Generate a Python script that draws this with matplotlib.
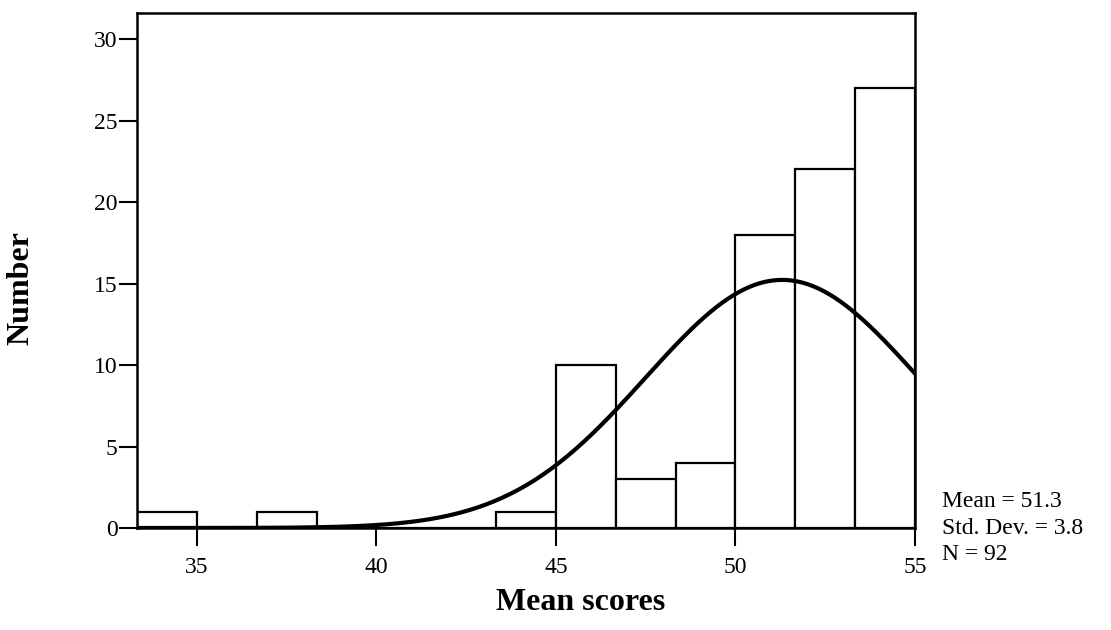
import numpy as np
import matplotlib
matplotlib.use("Agg")
import matplotlib.pyplot as plt

plt.rcParams['font.family'] = ['Liberation Serif', 'DejaVu Serif']

# histogram
bin_start = 100 / 3
bin_width = 5 / 3
counts = [1, 0, 1, 0, 0, 0, 1, 10, 3, 4, 18, 22, 27]
mean_score = 51.3
std_dev = 3.8
n_total = 92
x_ticks = [35, 40, 45, 50, 55]
y_ticks = [0, 5, 10, 15, 20, 25, 30]

edges = bin_start + bin_width * np.arange(len(counts))

fig = plt.figure(figsize=(11.11, 6.30), dpi=100)
ax = fig.add_axes([137 / 1111, 102 / 630, 778 / 1111, 515 / 630])

ax.bar(edges, counts, width=bin_width, align='edge', facecolor='white',
       edgecolor='black', linewidth=1.6, zorder=2)

# normal curve from the stated mean / sd, scaled to the histogram area
xs = np.linspace(bin_start, 55, 400)
pdf = np.exp(-0.5 * ((xs - mean_score) / std_dev) ** 2) / (std_dev * np.sqrt(2 * np.pi))
ax.plot(xs, pdf * sum(counts) * bin_width, color='black', linewidth=3, zorder=3)

ax.set_xlim(bin_start, 55)
ax.set_ylim(0, 31.6)
ax.set_xticks(x_ticks)
ax.set_yticks(y_ticks)
ax.tick_params(axis='both', direction='out', length=13, width=1.5, labelsize=17)
ax.tick_params(axis='x', pad=8)
ax.tick_params(axis='y', pad=1)
for s in ax.spines.values():
    s.set_linewidth(1.8)

fig.text(581 / 1111, 1 - 603 / 630, 'Mean scores', ha='center', va='center',
         fontsize=23, fontweight='bold')
fig.text(21 / 1111, 1 - 288 / 630, 'Number', ha='center', va='center',
         rotation=90, fontsize=23, fontweight='bold')
fig.text(942 / 1111, 1 - 528 / 630,
         f'Mean = {mean_score}\nStd. Dev. = {std_dev}\nN = {n_total}',
         ha='left', va='center', fontsize=17, linespacing=1.35)

fig.savefig('out.png', dpi=100)
